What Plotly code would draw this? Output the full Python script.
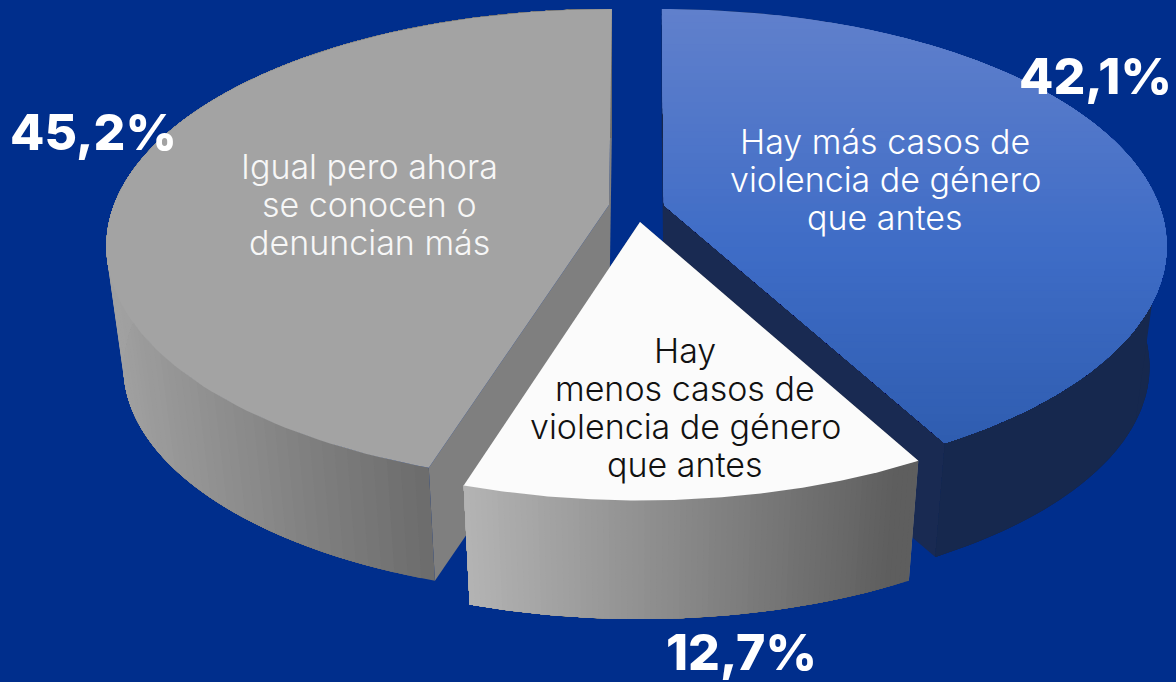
import numpy as np
import plotly.graph_objects as go

# --- data ---
category_lines = [["Igual pero ahora", "se conocen o", "denuncian más"],
                  ["Hay más casos de", "violencia de género", "que antes"],
                  ["Hay", "menos casos de", "violencia de género", "que antes"]]
values = [45.2, 42.1, 12.7]
value_labels = ["45,2%", "42,1%", "12,7%"]

# --- drawing parameters ---
W, H = 1176, 682
BG = "#002e8c"
A, B, K = 495, 230, 0.174     # radii and perspective of the disk
SHRINK = 0.966                 # bottom disk is a little smaller


def project(cx, cy, ang, r=1.0, z=0.0, depth=122):
    """Clockwise angle from the far point of the disk -> pixel position."""
    ang = np.radians(ang)
    u, v = r * np.sin(ang), -r * np.cos(ang)
    w = 1 - K * v
    s = 1 - (1 - SHRINK) * z
    return cx + s * A * u / w, cy + s * B * v / w + depth * z


def mix(c0, c1, t):
    t = float(np.clip(t, 0, 1))
    a = [int(c0[i:i + 2], 16) for i in (1, 3, 5)]
    b = [int(c1[i:i + 2], 16) for i in (1, 3, 5)]
    return "rgb(%d,%d,%d)" % tuple(round(p + (q - p) * t) for p, q in zip(a, b))


fig = go.Figure()


def poly(xs, ys, color):
    fig.add_trace(go.Scatter(x=list(xs), y=list(ys), mode="lines", fill="toself",
                             fillcolor=color, line=dict(color=color, width=0),
                             hoverinfo="skip", showlegend=False))


def clip_below(xs, ys, y0):
    """Keep the part of a polygon with y >= y0."""
    ox, oy = [], []
    n = len(xs)
    for i in range(n):
        x1, y1, x2, y2 = xs[i], ys[i], xs[(i + 1) % n], ys[(i + 1) % n]
        if y1 >= y0:
            ox.append(x1); oy.append(y1)
        if (y1 >= y0) != (y2 >= y0):
            t = (y0 - y1) / (y2 - y1)
            ox.append(x1 + t * (x2 - x1)); oy.append(y0)
    return ox, oy


def draw_slice(cx, cy, a0, a1, wall_fn, cut_color, top_fn, n_top=1, n_wall=110, depth=122):
    angs = np.linspace(a0, a1, 121)
    # cut faces
    for end in (a0, a1):
        xa, ya = project(cx, cy, end)
        xb, yb = project(cx, cy, end, z=1, depth=depth)
        xc, yc = project(cx, cy, end, r=0, z=1, depth=depth)
        poly([cx, xa, xb, xc], [cy, ya, yb, yc], cut_color)
    # rim: nested strips, each painted over the rest of the arc, so no seams show
    steps = np.linspace(a0, a1, n_wall + 1)
    for p, q in zip(steps[:-1], steps[1:]):
        rest = np.linspace(p, a1, 60)
        xa, ya = project(cx, cy, rest)
        xb, yb = project(cx, cy, rest[::-1], z=1, depth=depth)
        m = (p + q) / 2
        xm = (project(cx, cy, m)[0] + project(cx, cy, m, z=1, depth=depth)[0]) / 2
        poly(np.r_[xa, xb], np.r_[ya, yb], wall_fn(xm))
    # top
    tx, ty = project(cx, cy, angs)
    tx, ty = list(np.r_[cx, tx]), list(np.r_[cy, ty])
    if n_top == 1:
        poly(tx, ty, top_fn(0))
    else:
        y0, y1 = min(ty), max(ty)
        for yi in np.linspace(y0 - 1, y1, n_top, endpoint=False):
            bx, by = clip_below(tx, ty, yi)
            if len(bx) > 2:
                poly(bx, by, top_fn(yi))


sweep = [v / sum(values) * 360 for v in values]


def blue_top(y):
    if y < 250:
        return mix("#6080cc", "#3e6cc6", (y - 8) / 242)
    return mix("#3e6cc6", "#2f5db0", (y - 250) / 190)


# grey slice, running anticlockwise from the top
draw_slice(609, 205, -sweep[0] + 0.4, 0.4,
           lambda x: mix("#a2a2a2", "#6c6c6c", (x - 108) / 322),
           "#7f7f7f", lambda y: "#a3a3a3")
# blue slice, running clockwise from the top
draw_slice(664, 205, -0.3, sweep[1] - 0.3,
           lambda x: "#16284e", "#192a52", blue_top, n_top=60, n_wall=4)
# white slice, between the two
draw_slice(640, 222, sweep[1], sweep[1] + sweep[2],
           lambda x: mix("#b4b4b4", "#5e5e5e", (x - 465) / 450 * 1.05),
           "#7f7f7f", lambda y: "#fbfbfb", n_wall=80, depth=128)

LINE_GAP = 38
notes = [(369, 166, "#f7f7f7"), (885, 141, "#ffffff"), (685, 350, "#111111")]
for lines, (x, y0, col) in zip(category_lines, notes):
    for i, line in enumerate(lines):
        fig.add_annotation(x=x, y=y0 + i * LINE_GAP, text=line, showarrow=False,
                           xanchor="center", yanchor="middle",
                           font=dict(family="Inter", size=34, weight=300, color=col))
for text, x, y in zip(value_labels, (93, 1095, 741), (132, 76, 652)):
    fig.add_annotation(x=x, y=y, text=text, showarrow=False,
                       xanchor="center", yanchor="middle",
                       font=dict(family="Inter", size=50, weight=800, color="#ffffff"))

fig.update_xaxes(range=[0, W], visible=False, fixedrange=True)
fig.update_yaxes(range=[H, 0], visible=False, fixedrange=True)
fig.update_layout(width=W, height=H, margin=dict(l=0, r=0, t=0, b=0),
                  paper_bgcolor=BG, plot_bgcolor=BG, showlegend=False)
fig.write_html("out.html", config=dict(displayModeBar=False, responsive=False),
               post_script="document.body.style.margin='0';document.body.style.background='%s';" % BG)
